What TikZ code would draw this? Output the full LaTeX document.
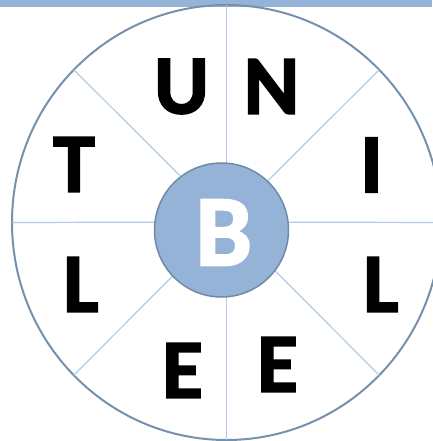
\documentclass[tikz,border=0pt]{standalone}
\usepackage{fontspec}
\setmainfont{Carlito}
\newfontfamily\heavyfont[FakeBold=2]{Carlito Bold}
\usepackage{xcolor}
\usepackage{tikz}
\usetikzlibrary{shapes.geometric}

\definecolor{barblue}{HTML}{95B3D7}
\definecolor{rimblue}{HTML}{7691AD}
\definecolor{spokeblue}{HTML}{B3CAE2}
\definecolor{hubedge}{HTML}{6F8AA8}

\begin{document}
\begin{tikzpicture}[
    x=1pt, y=-1pt,
    rim/.style={draw=rimblue, line width=2pt, ellipse, minimum width=429pt, minimum height=435pt, inner sep=0pt, outer sep=0pt},
    hub/.style={draw=hubedge, line width=1.5pt, fill=barblue, circle, minimum size=134pt, inner sep=0pt, outer sep=0pt},
    spoke/.style={draw=spokeblue, line width=1.2pt},
    letter/.style={inner sep=0pt, font=\fontsize{84}{84}\selectfont\heavyfont}
  ]
  \useasboundingbox (0,0) rectangle (432,441);
  \fill[barblue] (0,0) rectangle (432,7);

  \node[rim] (rim) at (226.5,222.5) {};
  \coordinate (c) at (226.5,222);

  \draw[spoke] (c) -- (rim.0);
  \draw[spoke] (c) -- (rim.45);
  \draw[spoke] (c) -- (rim.90);
  \draw[spoke] (c) -- (rim.135);
  \draw[spoke] (c) -- (rim.180);
  \draw[spoke] (c) -- (rim.225);
  \draw[spoke] (c) -- (rim.270);
  \draw[spoke] (c) -- (rim.315);

  \node[hub] (hub) at (221.5,230) {};
  \node[inner sep=0pt, text=white, font=\fontsize{101}{101}\selectfont\heavyfont] (b) at (223.7,232.5) {B};

  \node[letter] (u) at (181.5,86.5) {U};
  \node[letter] (n) at (271.5,86.5) {N};
  \node[letter] (t) at (74,164.5) {T};
  \node[letter] (i) at (371.5,165) {I};
  \node[letter] (l1) at (81,284.5) {L};
  \node[letter] (l2) at (381,284.5) {L};
  \node[letter] (e1) at (182.5,370.5) {E};
  \node[letter] (e2) at (277.5,364.5) {E};
\end{tikzpicture}
\end{document}
